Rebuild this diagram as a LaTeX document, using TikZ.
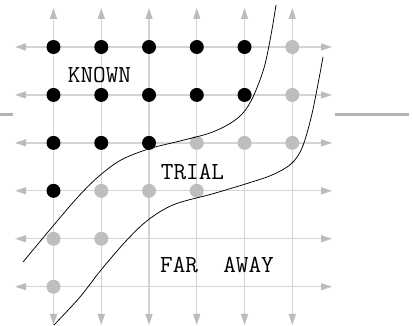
\documentclass[tikz,border=0pt]{standalone}
\usepackage{fontspec}
\usetikzlibrary{arrows.meta}
\definecolor{gridgray}{RGB}{212,212,212}
\definecolor{headgray}{RGB}{188,188,188}
\definecolor{dotgray}{RGB}{190,190,190}
\definecolor{bargray}{RGB}{178,178,178}
\begin{document}
\begin{tikzpicture}[x=1pt,y=-1pt,
  gridline/.style={draw=gridgray,line width=1.3pt,{Triangle[length=11pt,width=7pt,color=headgray]}-{Triangle[length=11pt,width=7pt,color=headgray]}},
  known/.style={circle,fill=black,inner sep=0pt,minimum size=14pt},
  trial/.style={circle,fill=dotgray,inner sep=0pt,minimum size=14pt},
  front/.style={draw=black,line width=0.75pt},
  region/.style={font=\fontsize{24.5}{27}\selectfont\ttfamily,inner sep=0pt},
  bar/.style={draw=bargray,line width=3pt}]
\fill[white] (0,0) rectangle (413,326);
\useasboundingbox (0,0) rectangle (413,326);

% grid points g-column-row
\foreach \i in {1,...,6}{
  \foreach \j in {1,...,6}{
    \pgfmathsetmacro\gx{53.5+47.76*(\i-1)}
    \pgfmathsetmacro\gy{47+47.94*(\j-1)}
    \coordinate (g-\i-\j) at (\gx,\gy);
  }
}
% grid line ends
\foreach \i in {1,...,6}{
  \path (g-\i-1) ++(0,-39) coordinate (top-\i);
  \path (g-\i-6) ++(0,38.3) coordinate (bot-\i);
  \path (g-1-\i) ++(-38.5,0) coordinate (lft-\i);
  \path (g-6-\i) ++(39.7,0) coordinate (rgt-\i);
}
\foreach \i in {1,...,6}{
  \draw[gridline] (top-\i) -- (bot-\i);
  \draw[gridline] (lft-\i) -- (rgt-\i);
}

% side bars
\coordinate (barL1) at (0,114.5);
\coordinate (barL2) at (13,114.5);
\coordinate (barR1) at (335,115);
\coordinate (barR2) at (409,115);
\draw[bar] (barL1) -- (barL2);
\draw[bar] (barR1) -- (barR2);

% accepted points
\foreach \p in {1-1,2-1,3-1,4-1,5-1,1-2,2-2,3-2,4-2,5-2,1-3,2-3,3-3,1-4}
  \node[known] (k-\p) at (g-\p) {};
% trial points
\foreach \p in {6-1,6-2,4-3,5-3,6-3,2-4,3-4,4-4,1-5,2-5,1-6}
  \node[trial] (t-\p) at (g-\p) {};

% fronts
\draw[front] plot[smooth,tension=0.55] coordinates {
  (23,262) (53,226) (77,198) (98,177) (121,160) (150,148.5) (180,141)
  (210,133) (230,123.5) (243,113) (253,97) (264,68) (271,35) (276,5)};
\draw[front] plot[smooth,tension=0.55] coordinates {
  (54,325) (80,297) (101,270) (126,241) (148,220) (174,204.5) (212,194)
  (247,183.5) (272,175) (291,164) (302,148) (311,118) (318,84) (323,57)};

% region labels
\node[region] (known) at (99.5,75) {KNOWN};
\node[region] (trial) at (192.5,171.5) {TRIAL};
\node[region] (far) at (217,264.5) {FAR\ \ AWAY};
\end{tikzpicture}
\end{document}
